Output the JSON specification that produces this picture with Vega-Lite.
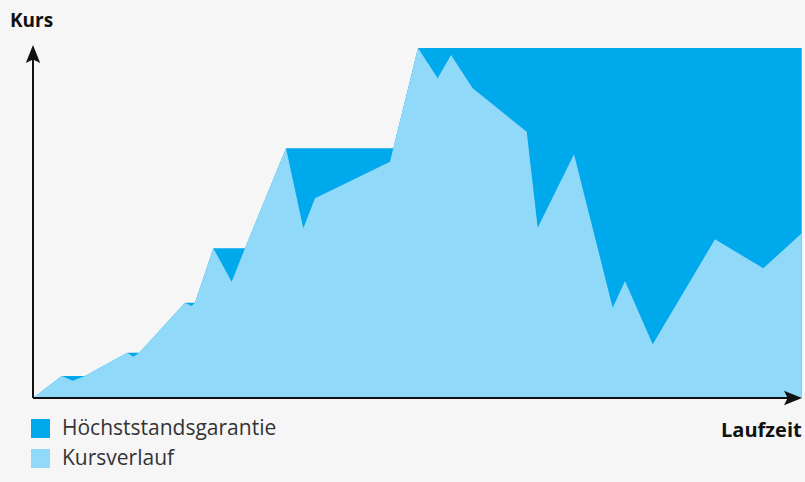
{
  "$schema": "https://vega.github.io/schema/vega-lite/v6.json",
  "width": 772,
  "height": 360,
  "autosize": {"type": "none"},
  "padding": {"left": 33, "top": 38, "right": 0, "bottom": 84},
  "background": "#f6f6f6",
  "config": {"view": {"stroke": null}, "font": "Open Sans"},
  "datasets": {
    "hoch": [
      {"x": 0, "y": 0, "serie": "Höchststandsgarantie"},
      {"x": 28.7, "y": 22, "serie": "Höchststandsgarantie"},
      {"x": 52, "y": 22, "serie": "Höchststandsgarantie"},
      {"x": 94.3, "y": 45.3, "serie": "Höchststandsgarantie"},
      {"x": 106.3, "y": 45.3, "serie": "Höchststandsgarantie"},
      {"x": 152, "y": 95.3, "serie": "Höchststandsgarantie"},
      {"x": 162, "y": 95.3, "serie": "Höchststandsgarantie"},
      {"x": 180.3, "y": 149.7, "serie": "Höchststandsgarantie"},
      {"x": 212, "y": 149.7, "serie": "Höchststandsgarantie"},
      {"x": 253, "y": 249.7, "serie": "Höchststandsgarantie"},
      {"x": 360.3, "y": 249.7, "serie": "Höchststandsgarantie"},
      {"x": 385, "y": 350, "serie": "Höchststandsgarantie"},
      {"x": 768.7, "y": 350, "serie": "Höchststandsgarantie"}
    ],
    "kurs": [
      {"x": 0, "y": 0, "serie": "Kursverlauf"},
      {"x": 28.7, "y": 22, "serie": "Kursverlauf"},
      {"x": 39.7, "y": 17.3, "serie": "Kursverlauf"},
      {"x": 52, "y": 22, "serie": "Kursverlauf"},
      {"x": 94.3, "y": 45.3, "serie": "Kursverlauf"},
      {"x": 100.3, "y": 41.3, "serie": "Kursverlauf"},
      {"x": 106.3, "y": 45.3, "serie": "Kursverlauf"},
      {"x": 152, "y": 95.3, "serie": "Kursverlauf"},
      {"x": 158.7, "y": 92, "serie": "Kursverlauf"},
      {"x": 162, "y": 95.3, "serie": "Kursverlauf"},
      {"x": 180.3, "y": 149.7, "serie": "Kursverlauf"},
      {"x": 198.7, "y": 116.3, "serie": "Kursverlauf"},
      {"x": 212, "y": 149.7, "serie": "Kursverlauf"},
      {"x": 253, "y": 249.7, "serie": "Kursverlauf"},
      {"x": 270.3, "y": 169.7, "serie": "Kursverlauf"},
      {"x": 282, "y": 199.7, "serie": "Kursverlauf"},
      {"x": 357, "y": 236.3, "serie": "Kursverlauf"},
      {"x": 385, "y": 350, "serie": "Kursverlauf"},
      {"x": 404.7, "y": 319.7, "serie": "Kursverlauf"},
      {"x": 418, "y": 343, "serie": "Kursverlauf"},
      {"x": 439.7, "y": 309.7, "serie": "Kursverlauf"},
      {"x": 493.7, "y": 266.3, "serie": "Kursverlauf"},
      {"x": 504.7, "y": 170.3, "serie": "Kursverlauf"},
      {"x": 541, "y": 243.7, "serie": "Kursverlauf"},
      {"x": 579.7, "y": 90.3, "serie": "Kursverlauf"},
      {"x": 592, "y": 117, "serie": "Kursverlauf"},
      {"x": 619.7, "y": 53.7, "serie": "Kursverlauf"},
      {"x": 682, "y": 158.7, "serie": "Kursverlauf"},
      {"x": 730.3, "y": 129.7, "serie": "Kursverlauf"},
      {"x": 768.7, "y": 164.7, "serie": "Kursverlauf"}
    ],
    "achsen": [
      {"x": 0, "y": 0, "x2": 0, "y2": 342},
      {"x": 0, "y": 0, "x2": 762, "y2": 0}
    ],
    "pfeilOben": [{"x": 0, "y": 344}],
    "pfeilRechts": [{"x": 760, "y": 0}],
    "titelY": [{"t": "Kurs", "x": -23, "y": 371.3}],
    "titelX": [{"t": "Laufzeit", "x": 768.7, "y": -38.7}]
  },
  "layer": [
    {
      "data": {"name": "hoch"},
      "mark": {"type": "area", "opacity": 1},
      "encoding": {
        "x": {"field": "x", "type": "quantitative", "scale": {"domain": [0, 772], "nice": false, "zero": false}, "axis": null},
        "y": {"field": "y", "type": "quantitative", "scale": {"domain": [0, 360], "nice": false}, "axis": null, "stack": null},
        "color": {
          "field": "serie", "type": "nominal",
          "scale": {"domain": ["Höchststandsgarantie", "Kursverlauf"], "range": ["#00a8ec", "#90d9f8"]},
          "legend": {
            "orient": "none", "legendX": -3, "legendY": 380, "title": null,
            "symbolType": "square", "symbolSize": 361, "symbolStrokeWidth": 0, "symbolOpacity": 1,
            "labelFontSize": 21, "labelColor": "#333333", "labelFont": "Open Sans", "labelLimit": 500,
            "labelOffset": 11, "rowPadding": 8, "padding": 0
          }
        }
      }
    },
    {
      "data": {"name": "kurs"},
      "mark": {"type": "area", "opacity": 1},
      "encoding": {
        "x": {"field": "x", "type": "quantitative", "scale": {"domain": [0, 772], "nice": false, "zero": false}, "axis": null},
        "y": {"field": "y", "type": "quantitative", "scale": {"domain": [0, 360], "nice": false}, "axis": null, "stack": null},
        "color": {"field": "serie", "type": "nominal"}
      }
    },
    {
      "data": {"name": "achsen"},
      "mark": {"type": "rule", "color": "#111111", "strokeWidth": 2},
      "encoding": {
        "x": {"field": "x", "type": "quantitative", "scale": {"domain": [0, 772], "nice": false, "zero": false}, "axis": null},
        "x2": {"field": "x2"},
        "y": {"field": "y", "type": "quantitative", "scale": {"domain": [0, 360], "nice": false}, "axis": null},
        "y2": {"field": "y2"}
      }
    },
    {
      "data": {"name": "pfeilOben"},
      "mark": {"type": "point", "shape": "M0,-1L0.8,1L0,0.6L-0.8,1Z", "filled": true, "color": "#111111", "opacity": 1, "size": 324},
      "encoding": {
        "x": {"field": "x", "type": "quantitative", "scale": {"domain": [0, 772], "nice": false, "zero": false}, "axis": null},
        "y": {"field": "y", "type": "quantitative", "scale": {"domain": [0, 360], "nice": false}, "axis": null}
      }
    },
    {
      "data": {"name": "pfeilRechts"},
      "mark": {"type": "point", "shape": "M1,0L-1,0.8L-0.6,0L-1,-0.8Z", "filled": true, "color": "#111111", "opacity": 1, "size": 324},
      "encoding": {
        "x": {"field": "x", "type": "quantitative", "scale": {"domain": [0, 772], "nice": false, "zero": false}, "axis": null},
        "y": {"field": "y", "type": "quantitative", "scale": {"domain": [0, 360], "nice": false}, "axis": null}
      }
    },
    {
      "data": {"name": "titelY"},
      "mark": {"type": "text", "align": "left", "baseline": "alphabetic", "fontSize": 19, "fontWeight": "bold", "color": "#111111", "font": "Open Sans"},
      "encoding": {
        "x": {"field": "x", "type": "quantitative", "scale": {"domain": [0, 772], "nice": false, "zero": false}, "axis": null},
        "y": {"field": "y", "type": "quantitative", "scale": {"domain": [0, 360], "nice": false}, "axis": null},
        "text": {"field": "t"}
      }
    },
    {
      "data": {"name": "titelX"},
      "mark": {"type": "text", "align": "right", "baseline": "alphabetic", "fontSize": 20, "fontWeight": "bold", "color": "#111111", "font": "Open Sans"},
      "encoding": {
        "x": {"field": "x", "type": "quantitative", "scale": {"domain": [0, 772], "nice": false, "zero": false}, "axis": null},
        "y": {"field": "y", "type": "quantitative", "scale": {"domain": [0, 360], "nice": false}, "axis": null},
        "text": {"field": "t"}
      }
    }
  ]
}
